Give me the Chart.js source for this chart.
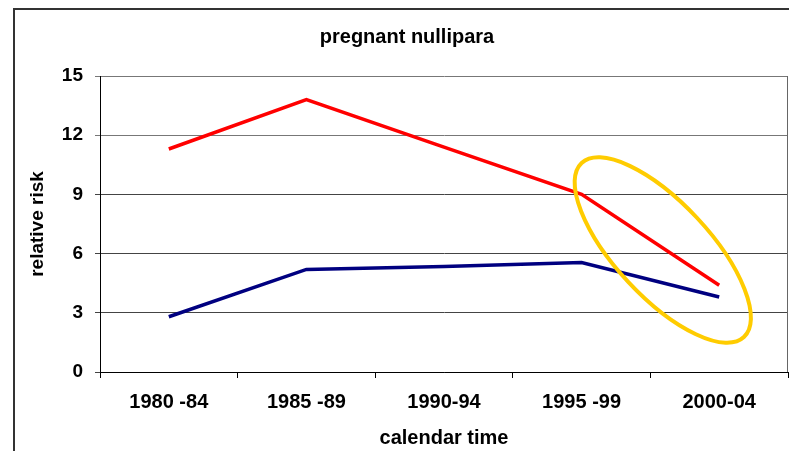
<!DOCTYPE html>
<html>
<head>
<meta charset="utf-8">
<script src="https://cdn.jsdelivr.net/npm/chart.js@4/dist/chart.umd.min.js"></script>
<style>
	html, body { margin: 0; padding: 0; background: #fff; overflow: hidden; }
	#wrap { position: relative; width: 789px; height: 451px; }
	#frame {
		position: absolute; left: 13px; top: 8px; width: 820px; height: 500px;
		border-left: 2px solid #333; border-top: 2px solid #333; pointer-events: none;
	}
	canvas { position: absolute; left: 0; top: 0; }
</style>
</head>
<body>
<div id="wrap">
	<canvas id="myChart" width="789" height="451"></canvas>
	<div id="frame"></div>
</div>
<script>
const periods = ["1980 -84", "1985 -89", "1990-94", "1995 -99", "2000-04"];
const redRisk = [11.3, 13.8, 11.4, 9.0, 4.4];
const blueRisk = [2.8, 5.2, 5.35, 5.55, 3.8];
const yTicks = [0, 3, 6, 9, 12, 15];
// yellow ring around the last interval, centre in data units (category index, risk)
const ring = { x: 3.59, y: 6.18 };

const fontFamily = "'Liberation Sans', Arial, sans-serif";
Chart.defaults.font.family = fontFamily;
Chart.defaults.color = "#000";

const ringPlugin = {
	id: "ring",
	beforeDatasetsDraw: (chart) => {
		const c = chart.ctx;
		const area = chart.chartArea;
		c.save();
		c.strokeStyle = "#666";
		c.lineWidth = 1;
		c.beginPath();
		c.moveTo(area.right - 0.5, area.top);
		c.lineTo(area.right - 0.5, area.bottom);
		c.stroke();
		c.restore();
	},
	afterDatasetsDraw: (chart) => {
		const c = chart.ctx;
		const cx = chart.scales.x.getPixelForValue(ring.x);
		const cy = chart.scales.y.getPixelForValue(ring.y);
		c.save();
		c.strokeStyle = "#FFCC00";
		c.lineWidth = 4;
		c.beginPath();
		c.ellipse(cx, cy, 119, 47, (47 * Math.PI) / 180, 0, Math.PI * 2);
		c.stroke();
		c.restore();
	},
};

const ctx = document.getElementById("myChart");
const myChart = new Chart(ctx, {
	type: "line",
	data: {
		labels: periods,
		datasets: [
			{
				data: redRisk,
				borderColor: "#FF0000",
				borderWidth: 3.5,
				pointRadius: 0,
				tension: 0,
			},
			{
				data: blueRisk,
				borderColor: "#000080",
				borderWidth: 3.5,
				pointRadius: 0,
				tension: 0,
			},
		],
	},
	options: {
		responsive: false,
		animation: false,
		devicePixelRatio: 1,
		layout: { padding: { left: 26, right: 1, top: 0, bottom: 0 } },
		plugins: {
			legend: { display: false },
			tooltip: { enabled: false },
			title: {
				display: true,
				text: "pregnant nullipara",
				color: "#000",
				font: { size: 20, weight: "bold" },
				padding: { top: 25, bottom: 27 },
			},
		},
		scales: {
			x: {
				offset: true,
				grid: { offset: true, drawOnChartArea: false, drawTicks: true, tickLength: 6, color: "#000" },
				border: { color: "#000", width: 1 },
				ticks: { color: "#000", font: { size: 20, weight: "bold" }, padding: 12, maxRotation: 0, autoSkip: false },
				title: {
					display: true,
					text: "calendar time",
					color: "#000",
					font: { size: 20, weight: "bold" },
					padding: { top: 0, bottom: 1 },
				},
				afterFit: (scale) => {
					scale.height = 79;
				},
			},
			y: {
				min: 0,
				max: 15,
				afterBuildTicks: (scale) => {
					scale.ticks = yTicks.map((v) => ({ value: v }));
				},
				grid: {
					color: (c) => (c.tick && c.tick.value >= 12 ? "#777" : "#444"),
					tickLength: 5,
					drawTicks: true,
				},
				border: { color: "#000", width: 1 },
				ticks: { color: "#000", font: { size: 19, weight: "bold" }, padding: 12 },
				title: {
					display: true,
					text: "relative risk",
					color: "#000",
					font: { size: 19, weight: "bold" },
					padding: { top: 0, bottom: 0 },
				},
				afterFit: (scale) => {
					scale.width = 74;
				},
			},
		},
	},
	plugins: [ringPlugin],
});
</script>
</body>
</html>
